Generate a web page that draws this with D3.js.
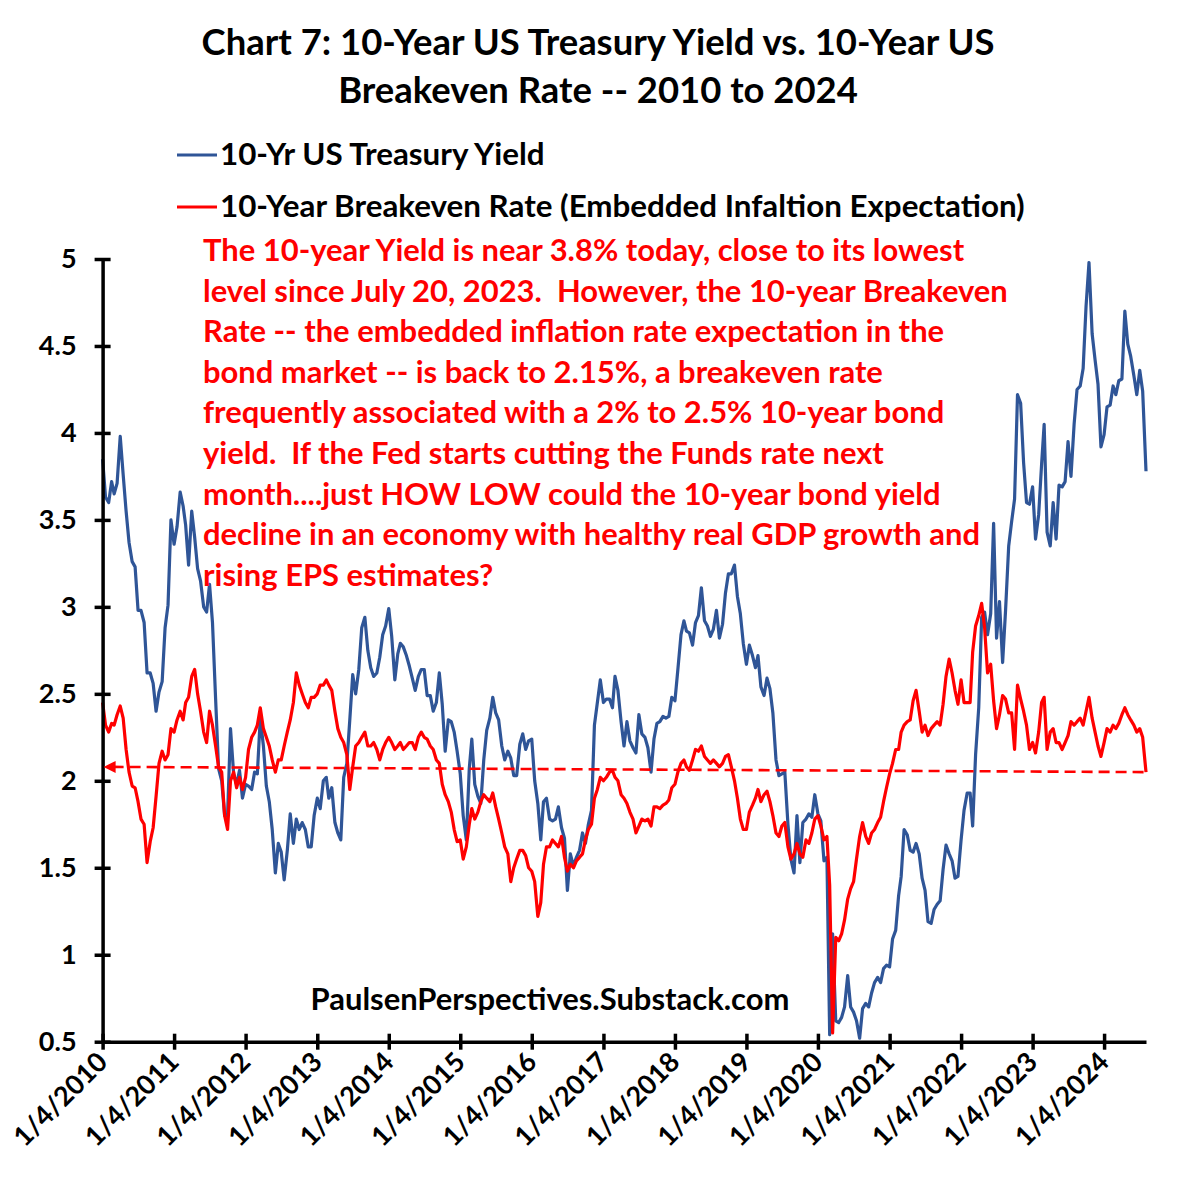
<!DOCTYPE html>
<html><head><meta charset="utf-8">
<script src="https://cdn.jsdelivr.net/npm/d3@7"></script>
<style>body{margin:0;background:#fff} svg{display:block}</style>
</head><body><svg id="chart" width="1196" height="1180"></svg>
<script>
const titleLines = ["Chart 7: 10-Year US Treasury Yield vs. 10-Year US", "Breakeven Rate -- 2010 to 2024"];
const legendLabels = ["10-Yr US Treasury Yield", "10-Year Breakeven Rate (Embedded Infaltion Expectation)"];
const noteLines = [
  "The 10-year Yield is near 3.8% today, close to its lowest",
  "level since July 20, 2023.  However, the 10-year Breakeven",
  "Rate -- the embedded inflation rate expectation in the",
  "bond market -- is back to 2.15%, a breakeven rate",
  "frequently associated with a 2% to 2.5% 10-year bond",
  "yield.  If the Fed starts cutting the Funds rate next",
  "month....just HOW LOW could the 10-year bond yield",
  "decline in an economy with healthy real GDP growth and",
  "rising EPS estimates?"
];
const watermark = "PaulsenPerspectives.Substack.com";
const xTickLabels = ["1/4/2010","1/4/2011","1/4/2012","1/4/2013","1/4/2014","1/4/2015","1/4/2016","1/4/2017","1/4/2018","1/4/2019","1/4/2020","1/4/2021","1/4/2022","1/4/2023","1/4/2024"];
const yTickValues = [0.5,1,1.5,2,2.5,3,3.5,4,4.5,5];

// semi-monthly readings (4th and 19th of each month), Jan 2010 .. Jul 2024, then 5 Aug 2024
const treasury = [
  3.85,3.63, 3.60,3.72, 3.65,3.71, 3.98,3.76, 3.55,3.37, 3.26,3.23, 2.98,2.98, 2.91,2.62, 2.62,2.56, 2.40,2.51, 2.57,2.88, 3.01,3.50,
  3.36,3.46, 3.66,3.58, 3.47,3.24, 3.55,3.40, 3.22,3.15, 3.00,2.97, 3.13,2.91, 2.47,2.07, 2.00,1.80, 1.80,2.30, 2.04,1.98, 2.06,1.90,
  1.98,1.97, 1.95,2.05, 2.04,2.36, 2.20,1.97, 1.88,1.72, 1.47,1.64, 1.59,1.43, 1.60,1.81, 1.64,1.78, 1.72,1.76, 1.72,1.62, 1.62,1.80,
  1.90,1.84, 2.00,2.02, 1.90,1.96, 1.76,1.70, 1.66,2.02, 2.10,2.35, 2.61,2.50, 2.64,2.88, 2.94,2.75, 2.65,2.60, 2.62,2.71, 2.84,2.89,
  2.99,2.83, 2.58,2.73, 2.79,2.77, 2.72,2.66, 2.59,2.52, 2.60,2.64, 2.64,2.49, 2.49,2.40, 2.45,2.62, 2.44,2.17, 2.35,2.34, 2.28,2.17,
  2.04,1.80, 1.66,2.07, 2.24,1.98, 1.91,1.87, 2.12,2.29, 2.36,2.48, 2.39,2.35, 2.20,2.12, 2.17,2.13, 2.03,2.03, 2.21,2.27, 2.18,2.23,
  2.24,2.00, 1.87,1.66, 1.88,1.90, 1.78,1.77, 1.78,1.85, 1.73,1.67, 1.37,1.58, 1.51,1.56, 1.60,1.70, 1.64,1.75, 1.83,2.32, 2.45,2.58,
  2.45,2.47, 2.47,2.42, 2.60,2.52, 2.34,2.20, 2.34,2.23, 2.19,2.16, 2.38,2.27, 2.25,2.19, 2.05,2.24, 2.33,2.34, 2.37,2.36, 2.37,2.48,
  2.46,2.64, 2.84,2.92, 2.86,2.85, 2.78,2.91, 2.95,3.11, 2.92,2.89, 2.83,2.87, 2.98,2.82, 2.90,3.08, 3.19,3.19, 3.24,3.06, 2.96,2.79,
  2.67,2.78, 2.72,2.65, 2.72,2.54, 2.49,2.59, 2.53,2.39, 2.12,2.03, 2.04,2.05, 1.75,1.55, 1.47,1.80, 1.53,1.76, 1.78,1.81, 1.79,1.92,
  1.81,1.77, 1.54,1.56, 0.54,1.12, 0.62,0.61, 0.64,0.70, 0.88,0.70, 0.67,0.62, 0.52,0.69, 0.72,0.70, 0.78,0.84, 0.87,0.84, 0.92,0.94,
  0.93,1.09, 1.14,1.34, 1.45,1.72, 1.69,1.60, 1.59,1.64, 1.58,1.44, 1.37,1.19, 1.18,1.26, 1.29,1.31, 1.49,1.63, 1.58,1.54, 1.44,1.45,
  1.66,1.83, 1.93,1.93, 1.74,2.15, 2.42,2.94, 2.97,2.84, 2.96,3.48, 2.82,3.03, 2.68,2.98, 3.35,3.49, 3.62,4.22, 4.17,3.83, 3.60,3.59,
  3.69,3.39, 3.53,3.82, 4.05,3.43, 3.35,3.60, 3.39,3.70, 3.69,3.72, 3.95,3.75, 4.05,4.25, 4.27,4.37, 4.73,4.98, 4.57,4.42, 4.28,3.92,
  3.99,4.15, 4.16,4.27, 4.22,4.30, 4.31,4.70, 4.51,4.44, 4.33,4.22, 4.36,4.24, 3.78
];
const breakeven = [
  2.45,2.32, 2.28,2.33, 2.32,2.38, 2.43,2.36, 2.18,2.05, 1.97,1.96, 1.88,1.78, 1.75,1.53, 1.65,1.73, 1.91,2.10, 2.17,2.12, 2.15,2.30,
  2.28,2.35, 2.40,2.35, 2.45,2.48, 2.60,2.64, 2.50,2.40, 2.28,2.22, 2.40,2.32, 2.20,2.08, 2.05,1.80, 1.72,2.00, 2.05,1.96, 2.02,1.95,
  2.02,2.18, 2.25,2.28, 2.32,2.42, 2.30,2.25, 2.20,2.12, 2.05,2.12, 2.12,2.20, 2.28,2.35, 2.45,2.62, 2.55,2.50, 2.45,2.42, 2.48,2.48,
  2.50,2.55, 2.55,2.58, 2.55,2.52, 2.40,2.30, 2.25,2.22, 2.15,1.95, 2.08,2.20, 2.22,2.25, 2.28,2.20, 2.20,2.22, 2.18,2.12, 2.18,2.22,
  2.25,2.22, 2.18,2.20, 2.22,2.18, 2.20,2.22, 2.22,2.18, 2.25,2.28, 2.25,2.24, 2.20,2.18, 2.12,2.10, 1.98,1.92, 1.88,1.82, 1.72,1.65,
  1.66,1.55, 1.62,1.75, 1.84,1.78, 1.82,1.88, 1.92,1.90, 1.88,1.93, 1.85,1.78, 1.70,1.62, 1.58,1.42, 1.50,1.55, 1.60,1.60, 1.57,1.50,
  1.48,1.42, 1.22,1.30, 1.52,1.62, 1.62,1.66, 1.64,1.62, 1.68,1.56, 1.48,1.52, 1.50,1.54, 1.56,1.58, 1.66,1.72, 1.75,1.90, 1.95,2.02,
  2.00,2.02, 2.05,2.06, 2.02,2.00, 1.92,1.90, 1.87,1.82, 1.78,1.70, 1.74,1.78, 1.77,1.78, 1.74,1.85, 1.85,1.84, 1.86,1.87, 1.89,1.96,
  1.98,2.05, 2.10,2.12, 2.08,2.06, 2.12,2.18, 2.17,2.20, 2.14,2.12, 2.10,2.12, 2.10,2.08, 2.10,2.14, 2.15,2.08, 2.00,1.90, 1.78,1.72,
  1.72,1.82, 1.86,1.90, 1.95,1.88, 1.92,1.94, 1.88,1.80, 1.70,1.68, 1.74,1.76, 1.62,1.55, 1.58,1.64, 1.58,1.56, 1.66,1.64, 1.70,1.78,
  1.80,1.74, 1.66,1.68, 1.40,0.55, 1.10,1.08, 1.12,1.20, 1.32,1.38, 1.42,1.55, 1.68,1.76, 1.68,1.64, 1.70,1.72, 1.76,1.79, 1.88,1.96,
  2.04,2.10, 2.18,2.18, 2.28,2.32, 2.34,2.35, 2.46,2.52, 2.40,2.28, 2.32,2.26, 2.30,2.32, 2.34,2.32, 2.44,2.60, 2.70,2.62, 2.52,2.44,
  2.58,2.45, 2.45,2.45, 2.74,2.89, 2.95,3.02, 2.88,2.62, 2.67,2.46, 2.30,2.38, 2.49,2.47, 2.39,2.39, 2.18,2.55, 2.47,2.40, 2.32,2.18,
  2.22,2.16, 2.28,2.45, 2.48,2.18, 2.28,2.30, 2.22,2.22, 2.18,2.22, 2.26,2.34, 2.32,2.34, 2.36,2.32, 2.40,2.48, 2.36,2.28, 2.20,2.14,
  2.22,2.30, 2.28,2.32, 2.30,2.33, 2.38,2.42, 2.38,2.35, 2.32,2.28, 2.30,2.25, 2.05
];
const refLine = [2.08, 2.05];

const dates = [];
for (let yr = 2010; yr <= 2024; yr++) for (let m = 0; m < 12; m++) {
  if (yr === 2024 && m > 6) break;
  dates.push(new Date(yr, m, 4)); dates.push(new Date(yr, m, 19));
}
dates.push(new Date(2024, 7, 5));

const FONT = "Lato, 'Open Sans', sans-serif";
const BLUE = "#2F5597", RED = "#FF0000";
const svg = d3.select("#chart");
svg.append("rect").attr("width",1196).attr("height",1180).attr("fill","#fff");

const x0 = new Date(2010,0,4), x1 = new Date(2024,7,5);
const x = d3.scaleTime().domain([x0, x1]).range([102.6, 1146]);
const y = d3.scaleLinear().domain([0.5, 5]).range([1041.7, 259]);

function fit(sel, w) {
  const cur = sel.node().getComputedTextLength();
  const fs = parseFloat(sel.attr("font-size"));
  return fs * w / cur;
}

// Title
const t1 = svg.append("text").attr("x",598).attr("y",55).attr("text-anchor","middle")
  .attr("font-family",FONT).attr("font-weight","bold").attr("font-size",32).text(titleLines[0]);
const tfs = fit(t1, 793);
t1.attr("font-size", tfs);
svg.append("text").attr("x",598).attr("y",103).attr("text-anchor","middle")
  .attr("font-family",FONT).attr("font-weight","bold").attr("font-size",tfs).text(titleLines[1]);

// Legend
const legY = [155, 207];
const legCols = [BLUE, RED];
const legTexts = legendLabels.map((s,i) => svg.append("text").attr("x",220).attr("y",legY[i]+10)
  .attr("font-family",FONT).attr("font-weight","bold").attr("font-size",26).attr("fill","#000").text(s));
const lfs = fit(legTexts[1], 805);
legTexts.forEach(t => t.attr("font-size", lfs));
legY.forEach((yy,i) => svg.append("line").attr("x1",177).attr("x2",217).attr("y1",yy).attr("y2",yy)
  .attr("stroke",legCols[i]).attr("stroke-width",3));

// Lines
const line = d3.line().x((d,i) => x(dates[i])).y(d => y(d));
const n = dates.length;
svg.append("path").datum(treasury.slice(0,n)).attr("d",line).attr("fill","none")
  .attr("stroke",BLUE).attr("stroke-width",3.2).attr("stroke-linejoin","round");
svg.append("path").datum(breakeven.slice(0,n)).attr("d",line).attr("fill","none")
  .attr("stroke",RED).attr("stroke-width",3.2).attr("stroke-linejoin","round");

// Axes
const gy = svg.append("g").attr("transform","translate(102.6,0)")
  .call(d3.axisLeft(y).tickValues(yTickValues).tickFormat(d3.format("~g")).tickSize(0).tickPadding(26));
gy.select(".domain").attr("stroke","#000").attr("stroke-width",3.5);
gy.selectAll(".tick line").attr("x1",-8).attr("x2",8).attr("stroke","#000").attr("stroke-width",3.5);
gy.selectAll(".tick text").attr("font-family",FONT).attr("font-weight","bold").attr("font-size",27).attr("fill","#000");

const tickDates = xTickLabels.map(s => { const p = s.split("/"); return new Date(+p[2], +p[0]-1, +p[1]); });
const gx = svg.append("g").attr("transform","translate(0,1041.7)")
  .call(d3.axisBottom(x).tickValues(tickDates).tickFormat((d,i) => xTickLabels[i]).tickSize(0));
gx.select(".domain").attr("stroke","#000").attr("stroke-width",3.5);
gx.selectAll(".tick line").attr("y1",-8).attr("y2",8).attr("stroke","#000").attr("stroke-width",3.5);
gx.selectAll(".tick text").attr("x",0).attr("y",0).attr("dy",null).attr("text-anchor","end")
  .attr("transform","translate(6,22) rotate(-45)")
  .attr("font-family",FONT).attr("font-weight","bold").attr("font-size",27).attr("fill","#000");

// Reference dashed line with arrow
const ax = x(x0), ay = y(refLine[0]);
svg.append("line").attr("x1",ax+10).attr("y1",ay).attr("x2",x(x1)).attr("y2",y(refLine[1]))
  .attr("stroke",RED).attr("stroke-width",2.6).attr("stroke-dasharray","11,6");
svg.append("path").attr("d",`M${ax+1},${ay} L${ax+13},${ay-6} L${ax+13},${ay+6} Z`).attr("fill",RED);

// Annotation text
const notes = noteLines.map((s,i) => svg.append("text").attr("x",203).attr("y",261 + i*40.6)
  .attr("font-family",FONT).attr("font-weight","bold").attr("font-size",27).attr("fill",RED)
  .style("white-space","pre").text(s));
const nfs = fit(notes[1], 805);
notes.forEach(t => t.attr("font-size", nfs));

// Watermark
const wm = svg.append("text").attr("x",550).attr("y",1010).attr("text-anchor","middle")
  .attr("font-family",FONT).attr("font-weight","bold").attr("font-size",26).attr("fill","#000").text(watermark);
wm.attr("font-size", fit(wm, 479));
</script></body></html>
